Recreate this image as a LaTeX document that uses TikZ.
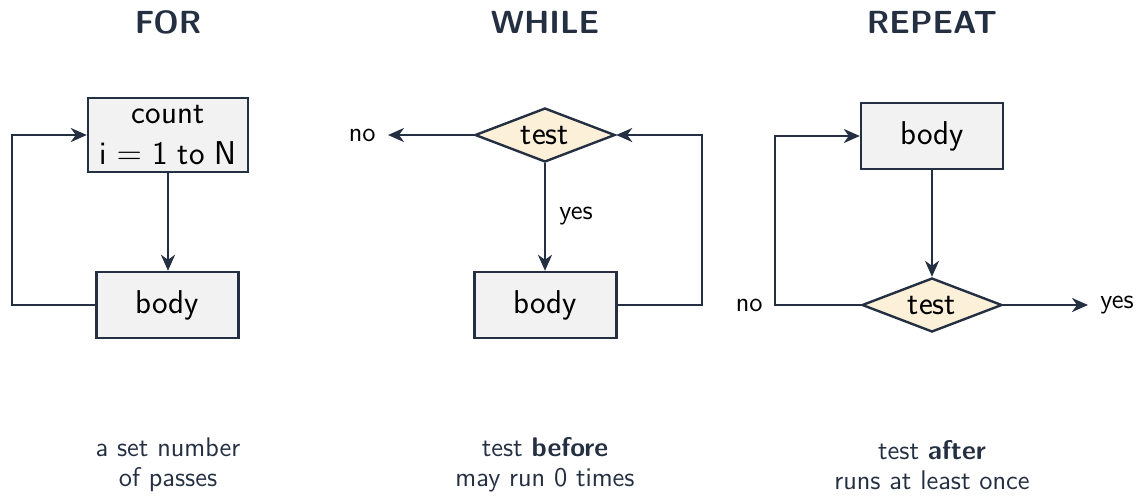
\documentclass[tikz,border=0pt]{standalone}
\usepackage{fontspec}
\usetikzlibrary{shapes.geometric,arrows.meta}
\definecolor{ink}{HTML}{243042}
\definecolor{boxfill}{HTML}{F2F2F2}
\definecolor{testfill}{HTML}{FCF0D9}
\begin{document}
\begin{tikzpicture}[x=0.5pt,y=-0.5pt,
  proc/.style={draw=ink, line width=1.2pt, fill=boxfill, minimum width=71pt,
    minimum height=33pt, inner sep=0pt, text=black,
    font=\sffamily\fontsize{16.5}{20.5}\selectfont},
  cond/.style={diamond, draw=ink, line width=1.2pt, fill=testfill,
    minimum width=70pt, minimum height=27pt, inner sep=0pt, shape aspect=2.6,
    text=black, font=\sffamily\fontsize{16.5}{20.5}\selectfont},
  flow/.style={draw=ink, line width=1.2pt, -{Stealth[length=8pt,width=7pt,inset=2.5pt]}},
  title/.style={text=ink, font=\sffamily\bfseries\fontsize{16}{18}\selectfont},
  lbl/.style={text=black, inner sep=6pt, font=\sffamily\fontsize{13.5}{15}\selectfont},
  note/.style={text=ink, align=center, font=\sffamily\fontsize{13.5}{15}\selectfont}
]
\useasboundingbox (0,0) rectangle (1140,495);

% headings
\node[title] (tfor) at (168,22) {FOR};
\node[title] (twhile) at (545,22) {WHILE};
\node[title] (trep) at (932,22) {REPEAT};

% FOR loop
\node[proc, minimum width=80pt, minimum height=37pt, align=center] (count) at (168,135)
  {count\\i $=$ 1 to N};
\node[proc] (fbody) at (167.5,305) {body};
\coordinate (floop) at (12,0);
\draw[flow] (count.south) -- (count.south |- fbody.north);
\draw[flow] (fbody.west) -- (fbody.west -| floop) |- (count.west);

% WHILE loop
\node[cond] (wtest) at (545,135) {test};
\node[proc] (wbody) at (545.5,305) {body};
\node[lbl, anchor=east] (wno) at (388,135) {no};
\node[lbl] (wyes) at (576,216) {yes};
\coordinate (wloop) at (702,0);
\draw[flow] (wtest.west) -- (wno.east);
\draw[flow] (wtest.south) -- (wtest.south |- wbody.north);
\draw[flow] (wbody.east) -- (wbody.east -| wloop) |- (wtest.east);

% REPEAT loop
\node[proc] (rbody) at (932,136) {body};
\node[cond] (rtest) at (932,305) {test};
\node[lbl, anchor=west] (ryes) at (1088,305) {yes};
\node[lbl, anchor=east] (rno) at (775,305) {no};
\draw[flow] (rbody.south) -- (rtest.north);
\draw[flow] (rtest.east) -- (ryes.west);
\draw[flow] (rtest.west) -- (rno.east) |- (rbody.west);

% captions
\node[note] (cfor) at (168,465) {a set number\\of passes};
\node[note] (cwhile) at (545,465) {test \textbf{before}\\may run 0 times};
\node[note] (crep) at (932,465) {test \textbf{after}\\runs at least once};
\end{tikzpicture}
\end{document}
